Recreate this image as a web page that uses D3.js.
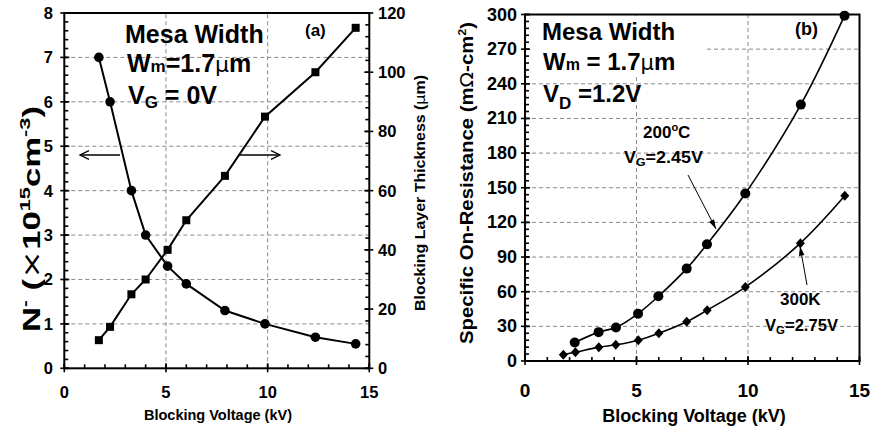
<!DOCTYPE html>
<html>
<head>
<meta charset="utf-8">
<script src="https://cdn.jsdelivr.net/npm/d3@7"></script>
<style>
  body { margin: 0; background: #fff; }
  svg text { font-family: "Liberation Sans", Arial, sans-serif; font-weight: bold; fill: #000; }
</style>
</head>
<body>
<script>
// panel (a): doping and blocking layer thickness vs blocking voltage
const kvA = [1.7, 2.25, 3.3, 4.0, 5.08, 6.0, 7.9, 9.87, 12.35, 14.33];
const nMinus = [7.0, 6.0, 4.0, 3.0, 2.3, 1.9, 1.3, 1.0, 0.7, 0.55];
const thickness = [9.5, 14, 25, 30, 40, 50, 65, 85, 100, 115];

// panel (b): specific on-resistance
const kv200 = [2.23, 3.3, 4.08, 5.07, 5.98, 7.25, 8.16, 9.88, 12.37, 14.33];
const ron200 = [16, 25, 29, 41, 56, 80, 101, 145, 222, 299];
const kv300 = [1.72, 2.26, 3.31, 4.07, 5.08, 6.0, 7.25, 8.17, 9.88, 12.35, 14.34];
const ron300 = [5.5, 7.5, 12, 14, 18, 24, 34, 44, 64, 102, 143];

const xTicks = [0, 5, 10, 15];
const nTicks = [0, 1, 2, 3, 4, 5, 6, 7, 8];
const tTicks = [0, 20, 40, 60, 80, 100, 120];
const rTicks = [0, 30, 60, 90, 120, 150, 180, 210, 240, 270, 300];

const svg = d3.select('body').append('svg')
  .attr('width', 875).attr('height', 426);

const grid = {stroke: '#8a8a8a', dash: '4,3'};

function gridLines(g, x, y, xs, ys){
  g.append('g').selectAll('line').data(xs).enter().append('line')
    .attr('x1', d => x(d)).attr('x2', d => x(d))
    .attr('y1', y.range()[0]).attr('y2', y.range()[1])
    .attr('stroke', grid.stroke).attr('stroke-dasharray', grid.dash);
  g.append('g').selectAll('line').data(ys).enter().append('line')
    .attr('y1', d => y(d)).attr('y2', d => y(d))
    .attr('x1', x.range()[0]).attr('x2', x.range()[1])
    .attr('stroke', grid.stroke).attr('stroke-dasharray', grid.dash);
}

// draws ticks: minor inside, major crossing
function ticks(g, orient, scale, pos, minors, majors, inward){
  const t = g.append('g');
  const mk = (vals, a, b) => vals.forEach(v => {
    const p = scale(v);
    if (orient === 'v') t.append('line').attr('x1', pos + a).attr('x2', pos + b).attr('y1', p).attr('y2', p);
    else t.append('line').attr('y1', pos + a).attr('y2', pos + b).attr('x1', p).attr('x2', p);
  });
  mk(minors, 0, 4 * inward);
  mk(majors, -4 * inward, 5 * inward);
  t.selectAll('line').attr('stroke', '#000').attr('stroke-width', 1.6);
}

function range(a, b, s){ return d3.range(a, b + s / 2, s); }

// ---------- panel (a) ----------
const xa = d3.scaleLinear().domain([0, 15]).range([64.3, 369.3]);
const ya = d3.scaleLinear().domain([0, 8]).range([368.3, 13]);
const ya2 = d3.scaleLinear().domain([0, 120]).range([368.3, 13]);
const ga = svg.append('g');

gridLines(ga, xa, ya, [5, 10], [1, 2, 3, 4, 5, 6, 7]);

ga.append('rect').attr('x', xa(0)).attr('y', ya(8))
  .attr('width', xa(15) - xa(0)).attr('height', ya(0) - ya(8))
  .attr('fill', 'none').attr('stroke', '#000').attr('stroke-width', 2);

ticks(ga, 'v', ya, xa(0), range(0, 8, 0.2), nTicks, 1);
ticks(ga, 'v', ya2, xa(15), range(0, 120, 4), tTicks, -1);
ticks(ga, 'h', xa, ya(0), range(0, 15, 1), xTicks, -1);

ga.append('g').selectAll('text').data(nTicks).enter().append('text')
  .attr('x', 53).attr('y', d => ya(d) + 6).attr('text-anchor', 'end')
  .attr('font-size', 16.5).text(d => d);
ga.append('g').selectAll('text').data(tTicks).enter().append('text')
  .attr('x', 378).attr('y', d => ya2(d) + 6)
  .attr('font-size', 16.5).text(d => d);
ga.append('g').selectAll('text').data(xTicks).enter().append('text')
  .attr('x', d => xa(d)).attr('y', 398).attr('text-anchor', 'middle')
  .attr('font-size', 16.5).text(d => d);

ga.append('text').attr('x', 218).attr('y', 420).attr('text-anchor', 'middle')
  .attr('font-size', 14.5).text('Blocking Voltage (kV)');

// left y title
let t = ga.append('text').attr('transform', 'translate(40,219) rotate(-90)')
  .attr('text-anchor', 'middle').attr('font-size', 24)
  .attr('textLength', 226).attr('lengthAdjust', 'spacingAndGlyphs');
t.append('tspan').text('N');
t.append('tspan').attr('font-size', 14).attr('dy', -10).text('-');
t.append('tspan').attr('dy', 10).text(' (');
t.append('tspan').attr('font-weight', 'normal').attr('font-family', 'DejaVu Sans').text('\u00d7');
t.append('tspan').text('10');
t.append('tspan').attr('font-size', 15).attr('dy', -10).text('15');
t.append('tspan').attr('dy', 10).text('cm');
t.append('tspan').attr('font-size', 15).attr('dy', -10).text('-3');
t.append('tspan').attr('dy', 10).text(')');

// right y title
t = ga.append('text').attr('transform', 'translate(425,193) rotate(-90)')
  .attr('text-anchor', 'middle').attr('font-size', 14)
  .attr('textLength', 236).attr('lengthAdjust', 'spacingAndGlyphs');
t.append('tspan').text('Blocking Layer Thickness (');
t.append('tspan').attr('font-weight', 'normal').attr('font-family', 'DejaVu Sans').text('\u03bc');
t.append('tspan').text('m)');

// series
ga.append('path').datum(d3.zip(kvA, nMinus))
  .attr('d', d3.line().x(d => xa(d[0])).y(d => ya(d[1])))
  .attr('fill', 'none').attr('stroke', '#000').attr('stroke-width', 2);
ga.append('path').datum(d3.zip(kvA, thickness))
  .attr('d', d3.line().x(d => xa(d[0])).y(d => ya2(d[1])))
  .attr('fill', 'none').attr('stroke', '#000').attr('stroke-width', 2);
ga.append('g').selectAll('circle').data(d3.zip(kvA, nMinus)).enter().append('circle')
  .attr('cx', d => xa(d[0])).attr('cy', d => ya(d[1])).attr('r', 4.8).attr('fill', '#000');
ga.append('g').selectAll('rect').data(d3.zip(kvA, thickness)).enter().append('rect')
  .attr('x', d => xa(d[0]) - 4).attr('y', d => ya2(d[1]) - 4).attr('width', 8).attr('height', 8).attr('fill', '#000');

// arrows
function openArrow(g, x1, y1, x2, y2){
  const a = Math.atan2(y2 - y1, x2 - x1), h = 10, w = 0.45;
  g.append('line').attr('x1', x1).attr('y1', y1).attr('x2', x2).attr('y2', y2)
    .attr('stroke', '#000').attr('stroke-width', 1.3);
  g.append('path')
    .attr('d', `M${x2 - h * Math.cos(a - w)},${y2 - h * Math.sin(a - w)}L${x2},${y2}L${x2 - h * Math.cos(a + w)},${y2 - h * Math.sin(a + w)}`)
    .attr('fill', 'none').attr('stroke', '#000').attr('stroke-width', 1.3);
}
openArrow(ga, 120, 155, 80, 155);
openArrow(ga, 238, 155, 280, 155);

// annotations
ga.append('text').attr('x', 125).attr('y', 43).attr('font-size', 25).text('Mesa Width');
t = ga.append('text').attr('x', 127).attr('y', 72).attr('font-size', 25);
t.append('tspan').text('W');
t.append('tspan').attr('font-size', 17).text('m');
t.append('tspan').text('=1.7');
t.append('tspan').attr('font-weight', 'normal').attr('font-family', 'DejaVu Sans').attr('font-size', 22).text('\u03bc');
t.append('tspan').text('m');
t = ga.append('text').attr('x', 128).attr('y', 104).attr('font-size', 25);
t.append('tspan').text('V');
t.append('tspan').attr('font-size', 17).attr('dy', 4).text('G');
t.append('tspan').attr('dy', -4).text(' = 0V');
ga.append('text').attr('x', 305).attr('y', 36).attr('font-size', 17).text('(a)');

// ---------- panel (b) ----------
const xb = d3.scaleLinear().domain([0, 15]).range([525, 859.5]);
const yb = d3.scaleLinear().domain([0, 300]).range([361, 14.5]);
const gb = svg.append('g');

gridLines(gb, xb, yb, [5, 10], rTicks.slice(1, -1));
// white box behind the top-left label block
gb.append('rect').attr('x', 527).attr('y', 16).attr('width', 178).attr('height', 60).attr('fill', '#fff');

gb.append('rect').attr('x', xb(0)).attr('y', yb(300))
  .attr('width', xb(15) - xb(0)).attr('height', yb(0) - yb(300))
  .attr('fill', 'none').attr('stroke', '#000').attr('stroke-width', 2);

ticks(gb, 'v', yb, xb(0), range(0, 300, 6), rTicks, 1);
ticks(gb, 'h', xb, yb(0), range(0, 15, 1), xTicks, -1);

gb.append('g').selectAll('text').data(rTicks).enter().append('text')
  .attr('x', 517).attr('y', d => yb(d) + 6).attr('text-anchor', 'end')
  .attr('font-size', 18).text(d => d);
gb.append('g').selectAll('text').data(xTicks).enter().append('text')
  .attr('x', d => xb(d)).attr('y', 397).attr('text-anchor', 'middle')
  .attr('font-size', 19).text(d => d);
gb.append('text').attr('x', 694).attr('y', 422).attr('text-anchor', 'middle')
  .attr('font-size', 18).text('Blocking Voltage (kV)');

t = gb.append('text').attr('transform', 'translate(473,183) rotate(-90)')
  .attr('text-anchor', 'middle').attr('font-size', 18)
  .attr('textLength', 322).attr('lengthAdjust', 'spacingAndGlyphs');
t.append('tspan').text('Specific On-Resistance (m');
t.append('tspan').attr('font-weight', 'normal').attr('font-family', 'DejaVu Sans').text('\u03a9');
t.append('tspan').text('-cm');
t.append('tspan').attr('font-size', 11).attr('dy', -7).text('2');
t.append('tspan').attr('dy', 7).text(')');

const curve = d3.line().curve(d3.curveCatmullRom.alpha(0.5)).x(d => xb(d[0])).y(d => yb(d[1]));
gb.append('path').datum(d3.zip(kv200, ron200)).attr('d', curve)
  .attr('fill', 'none').attr('stroke', '#000').attr('stroke-width', 1.6);
gb.append('path').datum(d3.zip(kv300, ron300)).attr('d', curve)
  .attr('fill', 'none').attr('stroke', '#000').attr('stroke-width', 1.6);
gb.append('g').selectAll('circle').data(d3.zip(kv200, ron200)).enter().append('circle')
  .attr('cx', d => xb(d[0])).attr('cy', d => yb(d[1])).attr('r', 5).attr('fill', '#000');
gb.append('g').selectAll('path').data(d3.zip(kv300, ron300)).enter().append('path')
  .attr('transform', d => `translate(${xb(d[0])},${yb(d[1])})`)
  .attr('d', 'M0,-5L4.5,0L0,5L-4.5,0Z').attr('fill', '#000');

// filled-head pointer lines
function pointer(g, x1, y1, x2, y2){
  const a = Math.atan2(y2 - y1, x2 - x1), h = 10, w = 0.28;
  g.append('line').attr('x1', x1).attr('y1', y1).attr('x2', x2).attr('y2', y2)
    .attr('stroke', '#000').attr('stroke-width', 1);
  g.append('path')
    .attr('d', `M${x2},${y2}L${x2 - h * Math.cos(a - w)},${y2 - h * Math.sin(a - w)}L${x2 - h * Math.cos(a + w)},${y2 - h * Math.sin(a + w)}Z`)
    .attr('fill', '#000');
}
pointer(gb, 688, 175, 716, 229);
pointer(gb, 807, 285, 800, 246);

gb.append('text').attr('x', 542).attr('y', 40).attr('font-size', 24).text('Mesa Width');
t = gb.append('text').attr('x', 543).attr('y', 69.5).attr('font-size', 24);
t.append('tspan').text('W');
t.append('tspan').attr('font-size', 16).text('m');
t.append('tspan').text(' = 1.7');
t.append('tspan').attr('font-weight', 'normal').attr('font-family', 'DejaVu Sans').attr('font-size', 21).text('\u03bc');
t.append('tspan').text('m');
t = gb.append('text').attr('x', 543).attr('y', 102).attr('font-size', 24);
t.append('tspan').text('V');
t.append('tspan').attr('font-size', 17).attr('dy', 7).text('D');
t.append('tspan').attr('dy', -7).text(' =1.2V');
gb.append('text').attr('x', 795).attr('y', 35).attr('font-size', 18).text('(b)');

t = gb.append('text').attr('x', 643).attr('y', 138).attr('font-size', 17);
t.append('tspan').text('200');
t.append('tspan').attr('font-size', 11).attr('dy', -7).text('o');
t.append('tspan').attr('dy', 7).text('C');
t = gb.append('text').attr('x', 624).attr('y', 163).attr('font-size', 16)
  .attr('textLength', 79).attr('lengthAdjust', 'spacingAndGlyphs');
t.append('tspan').text('V');
t.append('tspan').attr('font-size', 11).attr('dy', 3).text('G');
t.append('tspan').attr('dy', -3).text('=2.45V');

gb.append('text').attr('x', 780).attr('y', 305).attr('font-size', 17).text('300K');
t = gb.append('text').attr('x', 765).attr('y', 331).attr('font-size', 16)
  .attr('textLength', 73).attr('lengthAdjust', 'spacingAndGlyphs');
t.append('tspan').text('V');
t.append('tspan').attr('font-size', 11).attr('dy', 3).text('G');
t.append('tspan').attr('dy', -3).text('=2.75V');
</script>
</body>
</html>
